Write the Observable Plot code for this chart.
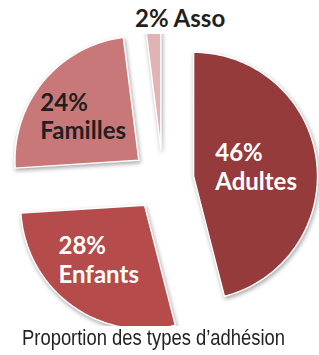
<!DOCTYPE html>
<html><head><meta charset="utf-8">
<script src="https://cdn.jsdelivr.net/npm/d3@7"></script>
<script src="https://cdn.jsdelivr.net/npm/@observablehq/plot@0.6"></script>
<style>
html,body{margin:0;padding:0;background:#fff;}
body{width:319px;height:355px;overflow:hidden;position:relative;font-family:Lato,"Open Sans",sans-serif;}
#asso{position:absolute;left:135px;top:6px;font-family:Lato,"Open Sans",sans-serif;font-weight:700;font-size:24px;line-height:24px;color:#231f20;white-space:nowrap;}
#chart{position:absolute;left:0;top:34px;}
#cap{position:absolute;left:22px;top:327px;font-family:"Liberation Sans",Arial,sans-serif;font-size:22px;line-height:22px;color:#231f20;white-space:nowrap;transform-origin:0 0;}
#chart svg path{filter:drop-shadow(1px 2px 2px rgba(0,0,0,0.35));}
</style>
</head><body>
<div id="asso"></div>
<div id="chart"></div>
<span id="cap"></span>
<script>
// ---- data ----
const categories = ["Adultes", "Enfants", "Familles", "Asso"];
const shares = [46, 28, 24, 2];
const percentLabels = ["46%", "28%", "24%", "2%"];
const caption = "Proportion des types d\u2019adhésion";

// ---- styling / layout config ----
const sliceColors = ["#963b3c", "#b54b4a", "#c87878", "#e0b3b4"];
const labelColors = {Adultes: "#ffffff", Enfants: "#ffffff", Familles: "#231f20"};
const W = 319, H = 292, R = 124, CX = 162.3, CY = 145.6;
const explode = 0.25, labelRadius = 0.55;
const captionWidth = 263;

// ---- geometry from data ----
const total = d3.sum(shares);
const dir = a => [Math.sin(a), Math.cos(a)];
let acc = 0;
const slices = categories.map((c, i) => {
  const a0 = acc / total * 2 * Math.PI;
  acc += shares[i];
  const a1 = acc / total * 2 * Math.PI;
  const mid = (a0 + a1) / 2;
  const [mx, my] = dir(mid);
  return {cat: c, pct: percentLabels[i], a0, a1, ox: explode * mx, oy: explode * my, mx, my};
});
const pts = [];
for (const s of slices) {
  pts.push({cat: s.cat, x: s.ox, y: s.oy});
  const n = Math.max(2, Math.ceil((s.a1 - s.a0) / (2 * Math.PI) * 180));
  for (let k = 0; k <= n; k++) {
    const a = s.a0 + (s.a1 - s.a0) * k / n;
    const [dx, dy] = dir(a);
    pts.push({cat: s.cat, x: s.ox + dx, y: s.oy + dy});
  }
  pts.push({cat: s.cat, x: s.ox, y: s.oy});
}
const labels = slices.filter(s => s.cat in labelColors).map(s => ({
  cat: s.cat, text: s.pct + "\n" + s.cat,
  x: s.ox + labelRadius * s.mx, y: s.oy + labelRadius * s.my
}));

const chart = Plot.plot({
  width: W, height: H,
  margin: 0,
  x: {domain: [-CX / R, (W - CX) / R], range: [0, W], axis: null},
  y: {domain: [(CY - H) / R, CY / R], range: [H, 0], axis: null},
  color: {domain: categories, range: sliceColors},
  style: {background: "transparent", overflow: "hidden"},
  marks: [
    Plot.line(pts, {x: "x", y: "y", z: "cat", fill: "cat", stroke: "white", strokeWidth: 1.5, clip: true}),
    Plot.text(labels, {x: "x", y: "y", text: "text", textAnchor: "start", dx: -46, dy: -1, lineAnchor: "middle",
      fill: d => labelColors[d.cat], fontSize: 24, fontWeight: 700, lineHeight: 1.2, fontFamily: "Lato"})
  ]
});
document.getElementById("chart").appendChild(chart);
const ai = categories.indexOf("Asso");
document.getElementById("asso").textContent = percentLabels[ai] + " " + categories[ai];
const cap = document.getElementById("cap");
cap.textContent = caption;
const cw = cap.getBoundingClientRect().width;
cap.style.transform = `scaleX(${captionWidth / cw})`;
</script>
</body></html>
